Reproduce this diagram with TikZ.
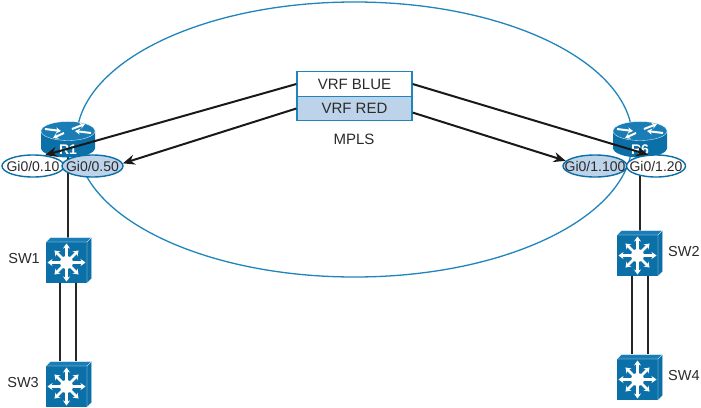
\documentclass[tikz,border=0pt]{standalone}
\usepackage{fontspec}
\setmainfont{Liberation Sans}
\usetikzlibrary{arrows.meta,calc,shapes.geometric}
\definecolor{netblue}{HTML}{0B6FA8}
\definecolor{nettop}{HTML}{1A7DB6}
\definecolor{netline}{HTML}{1F85BC}
\definecolor{netfill}{HTML}{BDD3EA}
\definecolor{inkgrey}{HTML}{2A2A2A}
\newcommand{\portname}[1]{\makebox[0pt]{#1}}
\tikzset{
  every node/.style={text=inkgrey,font=\fontsize{15}{17}\selectfont},
  devname/.style={inner sep=0pt,font=\fontsize{14.5}{16}\selectfont},
  port/.style={ellipse,draw=netblue,line width=1.4pt,fill=white,minimum height=22pt,inner sep=0pt,font=\fontsize{14}{16}\selectfont},
  portred/.style={port,fill=netfill},
  vrf/.style={rectangle,draw=netline,line width=1.3pt,minimum width=115pt,minimum height=24.5pt,inner sep=0pt,font=\fontsize{15}{17}\selectfont},
  device/.style={rectangle,minimum width=41pt,minimum height=41pt,inner sep=0pt},
  routerbody/.style={rectangle,minimum width=54pt,minimum height=33pt,inner sep=0pt},
  link/.style={draw=black!85,line width=1.6pt},
  tunnel/.style={draw=black!90,line width=2pt,-{Stealth[length=12pt,width=10pt]}},
  glyph/.style={white,line width=2.6pt,-{Stealth[length=5pt,width=7pt]}},
  rglyph/.style={white,line width=2pt,-{Stealth[length=5pt,width=6pt]}}
}
% Multilayer switch icon centred on the given point
\newcommand{\switchicon}[1]{%
  \begin{scope}[shift={(#1)}]
    \fill[netblue] (-20.5,-20.5) rectangle (20.5,20.5);
    \fill[nettop,draw=white,line width=.3pt] (-20.5,-20.5) -- (-16,-25) -- (25,-25) -- (20.5,-20.5) -- cycle;
    \fill[netblue,draw=white,line width=.3pt] (20.5,-20.5) -- (25,-25) -- (25,16) -- (20.5,20.5) -- cycle;
    \foreach \a/\r in {0/19,90/19,180/19,270/19,45/17,135/17,225/17,315/17}
      \draw[glyph] (0,0) -- (\a:\r);
    \fill[white] (0,0) circle (6.5);
  \end{scope}}
% Router icon: a drum with four arrows on its top face
\newcommand{\routericon}[2]{%
  \begin{scope}[shift={(#1)}]
    \fill[netblue] (-27,-7) -- (-27,10) arc[start angle=180,end angle=0,x radius=27,y radius=9.5] -- (27,-7) -- cycle;
    \fill[nettop,draw=white,line width=.3pt] (0,-7) ellipse[x radius=27,y radius=9.5];
    \draw[rglyph] (-23,-9) -- (-7,-7);
    \draw[rglyph] (23,-5) -- (7,-7);
    \draw[rglyph] (4,-9) -- (17,-14);
    \draw[rglyph] (-4,-5) -- (-15,0);
    \node[text=white,font=\bfseries\fontsize{14}{16}\selectfont] at (0,12) {#2};
  \end{scope}}
\begin{document}
\begin{tikzpicture}[x=1pt,y=-1pt]
  \useasboundingbox[fill=white] (0,0) rectangle (701,407);

  % MPLS cloud outline
  \draw[netline,line width=1.3pt] (354.5,139.5) ellipse[x radius=278,y radius=137.5];

  % Devices
  \node[routerbody] (r1) at (68,138) {};
  \node[routerbody] (r6) at (640,138) {};
  \node[device] (sw1) at (66.5,262.5) {};
  \node[device] (sw3) at (66.5,386.5) {};
  \node[device] (sw2) at (637.5,255.5) {};
  \node[device] (sw4) at (637.5,379.5) {};

  % Uplinks and switch pairs
  \draw[link] (r1) -- ($(sw1.north)+(1.5,-4)$);
  \draw[link] (r6) -- ($(sw2.north)+(2.5,-4)$);
  \foreach \upper/\lower/\dx in {sw1/sw3/-6.5,sw1/sw3/9.5,sw2/sw4/-5.5,sw2/sw4/10.5}
    \draw[link] ($(\upper.south)+(\dx,0)$) -- ($(\lower.north)+(\dx,-5)$);

  \routericon{68,138}{R1}
  \routericon{640,138}{R6}
  \switchicon{66.5,262.5}
  \switchicon{66.5,386.5}
  \switchicon{637.5,255.5}
  \switchicon{637.5,379.5}

  % Subinterfaces
  \node[port,minimum width=62pt] (g10) at (33,166) {\portname{Gi0/0.10}};
  \node[portred,minimum width=61pt] (g50) at (92.5,166) {\portname{Gi0/0.50}};
  \node[portred,minimum width=64pt] (g1100) at (595,166) {\portname{Gi0/1.100}};
  \node[port,minimum width=59pt] (g120) at (656,166) {\portname{Gi0/1.20}};

  % VRF table
  \node[vrf,fill=white] (blue) at (354.5,84) {VRF BLUE};
  \node[vrf,fill=netfill] (red) at (354.5,108.5) {VRF RED};
  \node (mpls) at (354,139) {MPLS};

  % Device names
  \node[devname,anchor=east] (n1) at (40,259) {SW1};
  \node[devname,anchor=east] (n3) at (39,383) {SW3};
  \node[devname,anchor=west] (n2) at (668,252) {SW2};
  \node[devname,anchor=west] (n4) at (668,376) {SW4};

  % Tunnels from the VRFs to the subinterfaces
  \draw[tunnel] (blue.west) -- (g10.42);
  \draw[tunnel] (red.west) -- (g50.5);
  \draw[tunnel] (blue.east) -- (g120.125);
  \draw[tunnel] (red.-4) -- (g1100.170);
\end{tikzpicture}
\end{document}
